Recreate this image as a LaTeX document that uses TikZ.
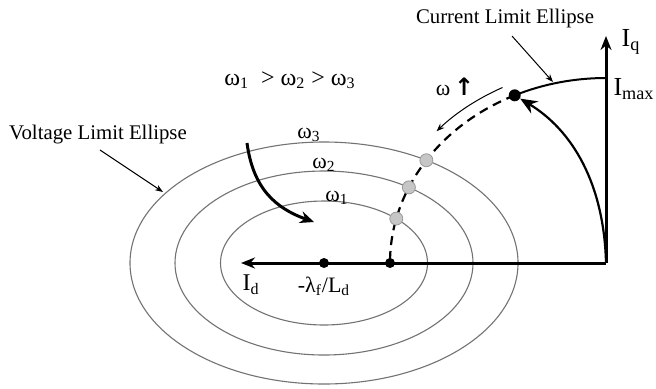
\documentclass[tikz,border=0pt]{standalone}
\usepackage{fontspec}
\setmainfont{Liberation Serif}
\newfontfamily\arrowfont{DejaVu Sans}
\usetikzlibrary{arrows.meta,intersections}
\begin{document}
\begin{tikzpicture}[x=0.5pt,y=0.5pt,
  axis/.style={line width=1.5pt,-{Stealth[length=7pt,width=5.5pt]}},
  volt/.style={black!55,line width=0.55pt},
  curlim/.style={line width=1pt},
  dashlim/.style={line width=1.1pt,dash pattern=on 4.5pt off 3pt},
  thinarrow/.style={line width=0.5pt,-{Stealth[length=4pt,width=3pt]}},
  gdot/.style={circle,fill=gray!45,draw=gray!80,line width=0.4pt,minimum size=6.5pt,inner sep=0pt},
  bdot/.style={circle,fill=black,minimum size=5pt,inner sep=0pt},
  lbl/.style={font=\fontsize{10.4}{12}\selectfont,inner sep=0pt},
  axlbl/.style={font=\fontsize{13}{15}\selectfont,inner sep=0pt},
  wlbl/.style={font=\fontsize{11}{13}\selectfont,inner sep=0pt}]
\fill[white] (0,0) rectangle (656,388);
\useasboundingbox (0,0) rectangle (656,388);
\coordinate (O) at (606,125);
\coordinate (C) at (324,125);
\coordinate (Q) at (606,352);
\coordinate (D) at (241,125);
\coordinate (M) at (606,310);
\coordinate (P) at (514.7,292.7);
\coordinate (E) at (390,125);
% voltage limit ellipses
\draw[volt,name path=v1] (C) ellipse [x radius=103.5,y radius=62];
\draw[volt,name path=v2] (C) ellipse [x radius=149,y radius=92];
\draw[volt,name path=v3] (C) ellipse [x radius=194,y radius=121];
% axes
\draw[axis] (O) -- (D);
\draw[axis] (O) -- (Q);
% current limit ellipse
\draw[curlim] (M) arc[start angle=90,end angle=115,x radius=216,y radius=185];
\draw[dashlim,name path=cl] (P) arc[start angle=115,end angle=180,x radius=216,y radius=185];
\path[name intersections={of=cl and v1,by=i1}];
\path[name intersections={of=cl and v2,by=i2}];
\path[name intersections={of=cl and v3,by=i3}];
\node[gdot] (g1) at (i1) {};
\node[gdot] (g2) at (i2) {};
\node[gdot] (g3) at (i3) {};
\node[bdot] (c0) at (C) {};
\node[bdot] (e0) at (E) {};
\node[bdot,minimum size=6pt] (p0) at (P) {};
% trajectory from origin
\draw[line width=1.1pt,-{Stealth[length=8.5pt,width=7pt]}] (O) .. controls (604,205) and (572,258) .. (p0);
% omega increasing arrow
\coordinate (W1) at (502.5,300.5);
\draw[thinarrow] (W1) arc[start angle=117,end angle=138,x radius=228,y radius=197];
\node[wlbl] (wup) at (455,301) {ω\,{\arrowfont\bfseries\fontsize{12}{14}\selectfont ↑}};
% thick curved arrow
\coordinate (T1) at (247,245);
\coordinate (T2) at (314,166);
\draw[line width=1.5pt,-{Stealth[length=7pt,width=6pt]}] (T1) .. controls (253,200) and (275,180) .. (T2);
% labels
\node[lbl] (cle) at (505,370) {Current Limit Ellipse};
\node[lbl] (vle) at (98,253) {Voltage Limit Ellipse};
\coordinate (cs) at (512,352);
\coordinate (ce) at (553,306);
\draw[thinarrow] (cs) -- (ce);
\coordinate (vs) at (100,238);
\coordinate (ve) at (163,196);
\draw[thinarrow] (vs) -- (ve);
\node[font=\fontsize{12}{14}\selectfont,inner sep=0pt] (ord) at (290,308) {ω\textsubscript{1}\ \ > ω\textsubscript{2} > ω\textsubscript{3}};
\node[wlbl] (w3) at (309,253) {ω\textsubscript{3}};
\node[wlbl] (w2) at (324,223) {ω\textsubscript{2}};
\node[wlbl] (w1) at (337,190) {ω\textsubscript{1}};
\node[axlbl] (iq) at (631,346) {I\textsubscript{q}};
\node[axlbl] (imax) at (634,299) {I\textsubscript{max}};
\node[axlbl,font=\fontsize{12}{14}\selectfont] (id) at (251,103) {I\textsubscript{d}};
\node[font=\fontsize{11}{13}\selectfont,inner sep=0pt] (lam) at (324,102) {-λ\textsubscript{f}/L\textsubscript{d}};
\end{tikzpicture}
\end{document}
